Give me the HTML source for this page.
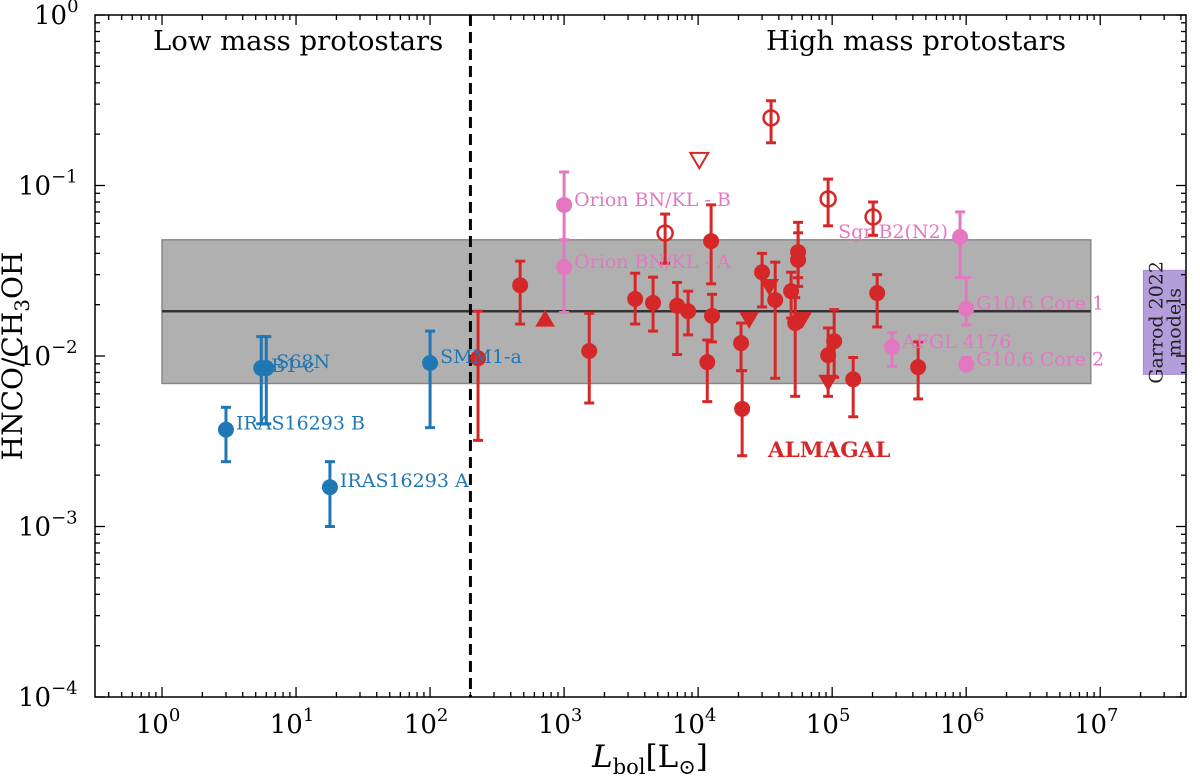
<!DOCTYPE html>
<html><head><meta charset="utf-8"><style>
html,body{margin:0;padding:0;background:#fff;}
svg text{font-family:"DejaVu Serif","Liberation Serif",serif;}
</style></head><body>
<svg id="chart" width="1200" height="774" viewBox="0 0 1200 774" xmlns="http://www.w3.org/2000/svg"></svg>
<script>
// ---- data ----
const lowNames=["IRAS16293 B","B1-c","S68N","IRAS16293 A","SMM1-a"];
const lowL=[3.0,5.5,6.0,17.9,100];
const lowR=[0.0037,0.0085,0.0085,0.0017,0.0091];
const lowHi=[0.005,0.013,0.013,0.0024,0.014];
const lowLo=[0.0024,0.004,0.004,0.001,0.0038];

const almL=[228,470,1540,3390,4610,6970,8420,12500,12700,11700,20900,21300,30000,37600,49400,53000,55700,55700,93300,103500,143500,216700,438000];
const almR=[0.0097,0.026,0.0107,0.0216,0.0205,0.0197,0.0183,0.0472,0.0172,0.0092,0.0119,0.0049,0.031,0.0213,0.024,0.0156,0.0407,0.0366,0.0101,0.0122,0.0073,0.0234,0.0086];
const almHi=[0.0183,0.036,0.0178,0.0306,0.029,0.027,0.024,0.077,0.023,0.0124,0.0156,0.0082,0.04,0.0355,0.031,0.022,0.0608,0.0528,0.0146,0.0187,0.0098,0.03,0.0121];
const almLo=[0.0032,0.0154,0.0053,0.0154,0.014,0.0102,0.0133,0.0265,0.0121,0.0054,0.0082,0.0026,0.0194,0.0074,0.0167,0.0058,0.0288,0.0256,0.0058,0.0075,0.0044,0.0148,0.0056];

const lowLimL=[721];
const lowLimR=[0.0165];
const upLimL=[24000,33900,59700,93300];
const upLimR=[0.0163,0.0255,0.0163,0.007];
const openUpL=[10200];
const openUpR=[0.141];
const openL=[5670,35000,93300,202000];
const openR=[0.0526,0.249,0.0834,0.0654];
const openHi=[0.068,0.314,0.109,0.08];
const openLo=[0.035,0.178,0.058,0.051];

const hmNames=["Orion BN/KL - B","Orion BN/KL - A","Sgr B2(N2)","G10.6 Core 1","AFGL 4176","G10.6 Core 2"];
const hmL=[1000,1000,900000,1000000,280000,1000000];
const hmR=[0.0769,0.0333,0.0499,0.019,0.0113,0.0089];
const hmHi=[0.12,0.048,0.07,0.0288,0.0137,0.0098];
const hmLo=[0.048,0.018,0.0288,0.0152,0.0087,0.0083];

const bandLo=0.0069, bandHi=0.048, bandMid=0.0183, bandX0=1, bandX1=8.5e6;
const dividerL=200;
const garrodL=[2.1e7,4.3e7], garrodR=[0.0078,0.0318];
const xTicks=[0,1,2,3,4,5,6,7];
const yTicks=[-4,-3,-2,-1,0];

// ---- axes ----
const L=95,R=1186,T=15,B=697;
const xmin=-0.5,xmax=7.64,ymin=-4,ymax=0;
const X=v=>L+(Math.log10(v)-xmin)/(xmax-xmin)*(R-L);
const Y=v=>B-(Math.log10(v)-ymin)/(ymax-ymin)*(B-T);
const svg=document.getElementById('chart');
const NS='http://www.w3.org/2000/svg';
function mk(tag,at,parent){const e=document.createElementNS(NS,tag);for(const k in at)e.setAttribute(k,at[k]);(parent||svg).appendChild(e);return e;}

let e=mk('rect',{x:X(bandX0),y:Y(bandHi),width:X(bandX1)-X(bandX0),height:Y(bandLo)-Y(bandHi),fill:'#b0b0b0',stroke:'#888','stroke-width':1.5});

e=mk('line',{x1:X(bandX0),x2:X(bandX1),y1:Y(bandMid),y2:Y(bandMid),stroke:'#333','stroke-width':2.5});

e=mk('rect',{x:X(garrodL[0]),y:Y(garrodR[1]),width:X(garrodL[1])-X(garrodL[0]),height:Y(garrodR[0])-Y(garrodR[1]),fill:'#b39ddb',stroke:'#a58bd0'});

const gx=(X(garrodL[0])+X(garrodL[1]))/2, gy=(Y(garrodR[0])+Y(garrodR[1]))/2;
e=mk('text',{x:gx,y:gy,'font-size':19,fill:'#222','text-anchor':'middle',transform:`rotate(-90 ${gx} ${gy})`});

mk('tspan',{x:gx,dy:-2},e).textContent='Garrod 2022';
mk('tspan',{x:gx,dy:18},e).textContent='models';
e=mk('line',{x1:X(dividerL),x2:X(dividerL),y1:T,y2:B,stroke:'#000','stroke-width':3,'stroke-dasharray':'11,6'});


function errbar(x,lo,hi,col,w,name){
  const g=mk('g',{stroke:col,'stroke-width':w});
  
  mk('line',{x1:x,x2:x,y1:Y(hi),y2:Y(lo)},g);
  mk('line',{x1:x-5,x2:x+5,y1:Y(hi),y2:Y(hi)},g);
  mk('line',{x1:x-5,x2:x+5,y1:Y(lo),y2:Y(lo)},g);
}
const blue='#1f77b4',red='#d62728',pink='#e377c2';
almL.forEach((l,i)=>{
  errbar(X(l),almLo[i],almHi[i],red,3,'almagal-errorbar');
  const c=mk('circle',{cx:X(l),cy:Y(almR[i]),r:8,fill:red});
  
});
openL.forEach((l,i)=>{
  errbar(X(l),openLo[i],openHi[i],red,3,'almagal-open-errorbar');
  const c=mk('circle',{cx:X(l),cy:Y(openR[i]),r:7.5,fill:'none',stroke:red,'stroke-width':2.5});
  
});
function tri(x,y,down,fill){
  const s=9;const p=down?`${x-s},${y-s*0.8} ${x+s},${y-s*0.8} ${x},${y+s*0.9}`:`${x-s},${y+s*0.8} ${x+s},${y+s*0.8} ${x},${y-s*0.9}`;
  return mk('polygon',{points:p,fill:fill?red:'#fff',stroke:red,'stroke-width':fill?1:2});
}
lowLimL.forEach((l,i)=>{const t=tri(X(l),Y(lowLimR[i]),false,true);});
upLimL.forEach((l,i)=>{const t=tri(X(l),Y(upLimR[i]),true,true);});
openUpL.forEach((l,i)=>{const t=tri(X(l),Y(openUpR[i]),true,false);});
hmL.forEach((l,i)=>{
  errbar(X(l),hmLo[i],hmHi[i],pink,3,'highmass-errorbar');
  const c=mk('circle',{cx:X(l),cy:Y(hmR[i]),r:8,fill:pink});
  
  const left=hmNames[i].startsWith('Sgr');
  const t=mk('text',{x:X(l)+(left?-12:10),y:Y(hmR[i])+1,'font-size':19,fill:pink,'text-anchor':left?'end':'start'});
  
  t.textContent=hmNames[i];
});
lowL.forEach((l,i)=>{
  errbar(X(l),lowLo[i],lowHi[i],blue,3,'lowmass-errorbar');
  const c=mk('circle',{cx:X(l),cy:Y(lowR[i]),r:8,fill:blue});
  
  const t=mk('text',{x:X(l)+10,y:Y(lowR[i])+ (i===1?4:0),'font-size':19,fill:blue});
  
  t.textContent=lowNames[i];
});
e=mk('text',{x:768,y:457,'font-size':21.5,'font-weight':'bold',fill:red});
e.textContent='ALMAGAL';
e=mk('text',{x:153,y:50,'font-size':27.5,fill:'#000'});
e.textContent='Low mass protostars';
e=mk('text',{x:766,y:50,'font-size':27.5,fill:'#000'});
e.textContent='High mass protostars';

e=mk('rect',{x:L,y:T,width:R-L,height:B-T,fill:'none',stroke:'#000','stroke-width':1.5});

const tk=mk('g',{stroke:'#000','stroke-width':1.3});

for(let d=-1;d<=8;d++)for(let m=1;m<10;m++){
  const v=Math.log10(m)+d; if(v<xmin||v>xmax)continue;
  const x=L+(v-xmin)/(xmax-xmin)*(R-L), len=m===1?10:5;
  mk('line',{x1:x,x2:x,y1:B,y2:B-len},tk);mk('line',{x1:x,x2:x,y1:T,y2:T+len},tk);
}
for(let d=-4;d<=0;d++)for(let m=1;m<10;m++){
  const v=Math.log10(m)+d; if(v<ymin||v>ymax)continue;
  const y=B-(v-ymin)/(ymax-ymin)*(B-T), len=m===1?10:5;
  mk('line',{x1:L,x2:L+len,y1:y,y2:y},tk);mk('line',{x1:R,x2:R-len,y1:y,y2:y},tk);
}
xTicks.forEach(d=>{
  const x=L+(d-xmin)/(xmax-xmin)*(R-L);
  const t=mk('text',{x:x-4,y:733,'font-size':26,'text-anchor':'middle'});
  
  t.textContent='10';mk('tspan',{dy:-12,'font-size':18},t).textContent=String(d);
});
yTicks.forEach(d=>{
  const y=B-(d-ymin)/(ymax-ymin)*(B-T);
  const t=mk('text',{x:d<0?18:34,y:y+9,'font-size':26});
  
  t.textContent='10';mk('tspan',{dy:-12,'font-size':18},t).textContent=d<0?'\u2212'+(-d):String(d);
});
e=mk('text',{x:650,y:767,'font-size':31,'text-anchor':'middle'});

mk('tspan',{'font-style':'italic'},e).textContent='L';
mk('tspan',{dy:7,'font-size':21},e).textContent='bol';
mk('tspan',{dy:-7},e).textContent='[L';
mk('tspan',{dy:7,'font-size':21},e).textContent='\u2299';
mk('tspan',{dy:-7},e).textContent=']';
e=mk('text',{x:0,y:0,'font-size':28,'text-anchor':'middle',transform:'translate(22,356) rotate(-90)'});

e.appendChild(document.createTextNode('HNCO/CH'));
mk('tspan',{dy:7,'font-size':20},e).textContent='3';
mk('tspan',{dy:-7},e).textContent='OH';
</script>
</body></html>
